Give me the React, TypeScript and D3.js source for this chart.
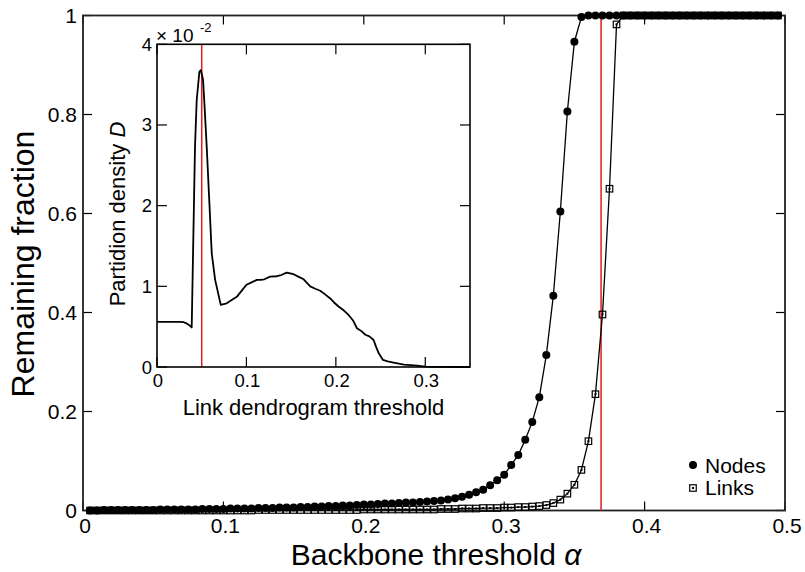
import React from "react";
import * as d3 from "d3";

const W = 805;
const H = 572;

// Main plot: backbone threshold alpha vs remaining fraction
const alphas: number[] = Array.from({ length: 99 }, (_, i) => +((i + 1) * 0.005).toFixed(3));

const nodesFrac: number[] = [
  0.000, 0.000, 0.001, 0.001, 0.001, 0.001, 0.001, 0.001, 0.001, 0.001,
  0.002, 0.002, 0.002, 0.002, 0.002, 0.002, 0.003, 0.003, 0.003, 0.003,
  0.004, 0.004, 0.004, 0.004, 0.005, 0.005, 0.005, 0.006, 0.006, 0.006,
  0.007, 0.007, 0.008, 0.008, 0.009, 0.009, 0.010, 0.010, 0.011, 0.012,
  0.012, 0.013, 0.014, 0.014, 0.015, 0.016, 0.016, 0.017, 0.018, 0.019,
  0.020, 0.022, 0.025, 0.028, 0.032, 0.037, 0.042, 0.051, 0.061, 0.072,
  0.092, 0.112, 0.143, 0.179, 0.229, 0.314, 0.434, 0.604, 0.806, 0.947,
  0.997, 1, 1, 1, 1, 1, 1, 1, 1, 1,
  1, 1, 1, 1, 1, 1, 1, 1, 1, 1,
  1, 1, 1, 1, 1, 1, 1, 1, 1,
];

const linksFrac: number[] = [
  0.000, 0.000, 0.000, 0.000, 0.000, 0.000, 0.000, 0.000, 0.000, 0.000,
  0.000, 0.000, 0.000, 0.000, 0.000, 0.000, 0.000, 0.000, 0.000, 0.000,
  0.000, 0.000, 0.000, 0.000, 0.001, 0.001, 0.001, 0.001, 0.001, 0.001,
  0.001, 0.001, 0.001, 0.001, 0.001, 0.001, 0.001, 0.001, 0.001, 0.002,
  0.002, 0.002, 0.002, 0.002, 0.002, 0.002, 0.002, 0.002, 0.002, 0.002,
  0.003, 0.003, 0.003, 0.004, 0.004, 0.004, 0.005, 0.005, 0.005, 0.006,
  0.006, 0.007, 0.007, 0.008, 0.009, 0.011, 0.015, 0.022, 0.034, 0.052,
  0.082, 0.140, 0.235, 0.396, 0.650, 0.982, 1, 1, 1, 1,
  1, 1, 1, 1, 1, 1, 1, 1, 1, 1,
  1, 1, 1, 1, 1, 1, 1, 1, 1,
];

const xTicks = [0, 0.1, 0.2, 0.3, 0.4, 0.5];
const xTickLabels = ["0", "0.1", "0.2", "0.3", "0.4", "0.5"];
const yTicks = [0, 0.2, 0.4, 0.6, 0.8, 1];
const yTickLabels = ["0", "0.2", "0.4", "0.6", "0.8", "1"];
const alphaMarker = 0.369;

// Inset: partition density vs link dendrogram threshold (units of 1e-2)
const insetT: number[] = [
  0, 0.01, 0.02, 0.025, 0.03, 0.033, 0.036, 0.0388, 0.0399, 0.0425, 0.0444, 0.0474,
  0.049, 0.0515, 0.053, 0.0556, 0.0586, 0.0612, 0.065, 0.0713, 0.078, 0.0835, 0.0892,
  0.095, 0.1, 0.104, 0.1116, 0.116, 0.12, 0.1265, 0.134, 0.139, 0.145, 0.1527, 0.158,
  0.164, 0.1713, 0.177, 0.1825, 0.188, 0.1937, 0.198, 0.203, 0.209, 0.2142, 0.219,
  0.2236, 0.228, 0.233, 0.2375, 0.2422, 0.245, 0.248, 0.2527, 0.258, 0.2646, 0.276,
  0.291, 0.3, 0.31, 0.35,
];
const insetD: number[] = [
  0.56, 0.56, 0.56, 0.56, 0.555, 0.54, 0.52, 0.49, 1.16, 2.73, 3.31, 3.66,
  3.68, 3.56, 3.27, 2.73, 2.03, 1.41, 1.08, 0.77, 0.79, 0.83, 0.87,
  0.95, 1.02, 1.04, 1.08, 1.08, 1.087, 1.12, 1.125, 1.14, 1.17, 1.15, 1.12,
  1.087, 1.0, 0.97, 0.945, 0.9, 0.85, 0.8, 0.75, 0.7, 0.645, 0.58,
  0.48, 0.45, 0.40, 0.38, 0.335, 0.25, 0.17, 0.087, 0.07, 0.053, 0.029,
  0.017, 0.005, 0.002, 0,
];
const insetXTicks = [0, 0.1, 0.2, 0.3];
const insetXTickLabels = ["0", "0.1", "0.2", "0.3"];
const insetYTicks = [0, 1, 2, 3, 4];
const insetYTickLabels = ["0", "1", "2", "3", "4"];
const insetMarker = 0.05;

const FONT = "'Liberation Sans', Arial, Helvetica, sans-serif";
const RED = "#e41a1c";

export default function App() {
  const x = d3.scaleLinear().domain([0, 0.5]).range([83, 785]);
  const y = d3.scaleLinear().domain([0, 1]).range([510.5, 15.5]);
  const ix = d3.scaleLinear().domain([0, 0.35]).range([157, 470]);
  const iy = d3.scaleLinear().domain([0, 4]).range([367, 44.3]);

  const line = d3
    .line<number>()
    .x((_, i) => x(alphas[i]))
    .y((d) => y(d));
  const insetLine = d3
    .line<number>()
    .x((_, i) => ix(insetT[i]))
    .y((d) => iy(d));

  const [x0, x1] = x.range();
  const [y0, y1] = y.range();
  const [ix0, ix1] = ix.range();
  const [iy0, iy1] = iy.range();
  const tl = 9;
  const sq = 6.5;

  return (
    <svg
      width={W}
      height={H}
      style={{ position: "absolute", left: 0, top: 0, background: "#fff" }}
      fontFamily={FONT}
    >
      <rect x={0} y={0} width={W} height={H} fill="#fff" />

      {/* main ticks */}
      {xTicks.map((t, i) => (
        <g key={"xt" + i}>
          <line x1={x(t)} x2={x(t)} y1={y0} y2={y0 - tl} stroke="#000" strokeWidth={1.2} />
          <line x1={x(t)} x2={x(t)} y1={y1} y2={y1 + tl} stroke="#000" strokeWidth={1.2} />
          <text x={x(t) + 2} y={533} fontSize={21} textAnchor="middle" fill="#000">
            {xTickLabels[i]}
          </text>
        </g>
      ))}
      {yTicks.map((t, i) => (
        <g key={"yt" + i}>
          <line x1={x0} x2={x0 + tl} y1={y(t)} y2={y(t)} stroke="#000" strokeWidth={1.2} />
          <line x1={x1} x2={x1 - tl} y1={y(t)} y2={y(t)} stroke="#000" strokeWidth={1.2} />
          <text x={77} y={y(t) + 7.5} fontSize={21} textAnchor="end" fill="#000">
            {yTickLabels[i]}
          </text>
        </g>
      ))}

      {/* main frame */}
      <rect x={x0} y={y1} width={x1 - x0} height={y0 - y1} fill="none" stroke="#222" strokeWidth={1.8} />

      {/* red threshold line */}
      <line x1={x(alphaMarker)} x2={x(alphaMarker)} y1={y1} y2={y0} stroke={RED} strokeWidth={1.5} />

      {/* nodes */}
      <path d={line(nodesFrac) || ""} fill="none" stroke="#000" strokeWidth={1.3} />
      {nodesFrac.map((v, i) => (
        <circle key={"n" + i} cx={x(alphas[i])} cy={y(v)} r={4} fill="#000" />
      ))}

      {/* links */}
      <path d={line(linksFrac) || ""} fill="none" stroke="#000" strokeWidth={1.3} />
      {linksFrac.map((v, i) => (
        <g key={"l" + i}>
          <rect
            x={x(alphas[i]) - sq / 2}
            y={y(v) - sq / 2}
            width={sq}
            height={sq}
            fill="none"
            stroke="#000"
            strokeWidth={1.2}
          />
          <rect x={x(alphas[i]) - 1} y={y(v) - 1} width={2} height={2} fill="#000" />
        </g>
      ))}

      {/* axis titles */}
      <text x={436} y={565} fontSize={30} textAnchor="middle" fill="#000">
        Backbone threshold <tspan fontStyle="italic">α</tspan>
      </text>
      <text
        transform="translate(34,264) rotate(-90)"
        fontSize={32}
        textAnchor="middle"
        fill="#000"
      >
        Remaining fraction
      </text>

      {/* legend */}
      <circle cx={693} cy={465} r={4} fill="#000" />
      <text x={705} y={472.5} fontSize={21} fill="#000">Nodes</text>
      <rect x={693 - sq / 2} y={488 - sq / 2} width={sq} height={sq} fill="#fff" stroke="#000" strokeWidth={1.2} />
      <rect x={692} y={487} width={2} height={2} fill="#000" />
      <text x={705} y={495} fontSize={21} fill="#000">Links</text>

      {/* inset */}
      <rect x={ix0} y={iy1} width={ix1 - ix0} height={iy0 - iy1} fill="#fff" />
      {insetXTicks.map((t, i) => (
        <g key={"ixt" + i}>
          <line x1={ix(t)} x2={ix(t)} y1={iy0} y2={iy0 - 10} stroke="#000" strokeWidth={1.2} />
          <line x1={ix(t)} x2={ix(t)} y1={iy1} y2={iy1 + 10} stroke="#000" strokeWidth={1.2} />
          <text x={ix(t) + 1} y={387} fontSize={18.5} textAnchor="middle" fill="#000">
            {insetXTickLabels[i]}
          </text>
        </g>
      ))}
      {insetYTicks.map((t, i) => (
        <g key={"iyt" + i}>
          <line x1={ix0} x2={ix0 + 10} y1={iy(t)} y2={iy(t)} stroke="#000" strokeWidth={1.2} />
          <line x1={ix1} x2={ix1 - 10} y1={iy(t)} y2={iy(t)} stroke="#000" strokeWidth={1.2} />
          <text x={152} y={iy(t) + 6.5} fontSize={18.5} textAnchor="end" fill="#000">
            {insetYTickLabels[i]}
          </text>
        </g>
      ))}
      <line x1={ix(insetMarker)} x2={ix(insetMarker)} y1={iy1} y2={iy0} stroke={RED} strokeWidth={1.5} />
      <path d={insetLine(insetD) || ""} fill="none" stroke="#000" strokeWidth={1.8} strokeLinejoin="round" />
      <rect x={ix0} y={iy1} width={ix1 - ix0} height={iy0 - iy1} fill="none" stroke="#000" strokeWidth={1.6} />

      <text x={156} y={41.5} fontSize={19} fill="#000">
        × 10
      </text>
      <text x={200} y={31.5} fontSize={13} fill="#000">
        -2
      </text>

      <text x={313.5} y={415} fontSize={22} textAnchor="middle" fill="#000">
        Link dendrogram threshold
      </text>
      <text
        transform="translate(125,214) rotate(-90)"
        fontSize={22}
        textAnchor="middle"
        fill="#000"
      >
        Partidion density <tspan fontStyle="italic">D</tspan>
      </text>
    </svg>
  );
}
